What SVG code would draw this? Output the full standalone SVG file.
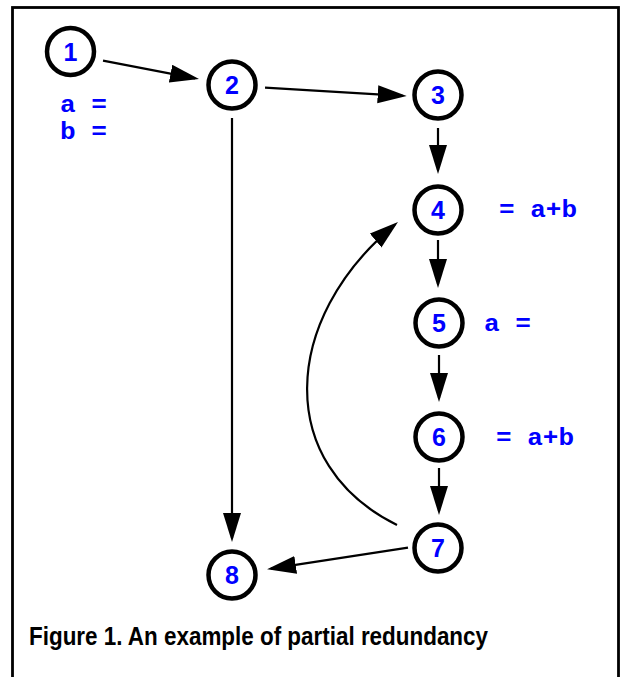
<svg xmlns="http://www.w3.org/2000/svg" width="620" height="677" viewBox="0 0 620 677">
<style>
.node circle{fill:#fff;stroke:#000;stroke-width:4.5}
.node text{font-family:"Liberation Sans",Arial,sans-serif;font-weight:bold;font-size:25px;fill:#0000ff;text-anchor:middle}
.code{font-family:"Liberation Mono","Courier New",monospace;font-weight:bold;font-size:23px;fill:#0000ff}
.edge{fill:none;stroke:#000;stroke-width:2.2}
.cap{font-family:"Liberation Sans",Arial,sans-serif;font-weight:bold;font-size:25px;fill:#000}
</style>
<defs>
<marker id="ah" markerUnits="userSpaceOnUse" markerWidth="32" markerHeight="20" refX="25" refY="9" orient="auto">
<path d="M0,0 L29,9 L0,18 z" fill="#000"/>
</marker>
</defs>
<rect x="0" y="0" width="620" height="677" fill="#fff"/>
<rect x="12.5" y="7.5" width="606" height="700" fill="none" stroke="#000" stroke-width="2.8"/>
<g id="connectors">
<line class="edge" x1="103" y1="60.7" x2="195.1" y2="78.3" marker-end="url(#ah)"/>
<line class="edge" x1="265" y1="87.7" x2="402.7" y2="95.8" marker-end="url(#ah)"/>
<line class="edge" x1="438" y1="128" x2="438" y2="170" marker-end="url(#ah)"/>
<line class="edge" x1="438" y1="240" x2="438" y2="284" marker-end="url(#ah)"/>
<line class="edge" x1="439" y1="355" x2="439" y2="398" marker-end="url(#ah)"/>
<line class="edge" x1="439" y1="468" x2="439" y2="511" marker-end="url(#ah)"/>
<line class="edge" x1="232" y1="118" x2="232" y2="538" marker-end="url(#ah)"/>
<line class="edge" x1="408" y1="547.7" x2="271" y2="568.7" marker-end="url(#ah)"/>
<path class="edge" d="M397,525 C275,465 280,320 394.9,224.6" marker-end="url(#ah)"/>
</g>
<g id="node1" class="node"><circle cx="70.5" cy="51.5" r="23.5"/><text x="70.5" y="60.5">1</text></g>
<g id="node2" class="node"><circle cx="232" cy="85" r="23.5"/><text x="232" y="94">2</text></g>
<g id="node3" class="node"><circle cx="438" cy="95" r="23.5"/><text x="438" y="104">3</text></g>
<g id="node4" class="node"><circle cx="438" cy="210" r="23.5"/><text x="438" y="219">4</text></g>
<g id="node5" class="node"><circle cx="439" cy="323" r="23.5"/><text x="439" y="332">5</text></g>
<g id="node6" class="node"><circle cx="439" cy="437" r="23.5"/><text x="439" y="446">6</text></g>
<g id="node7" class="node"><circle cx="438" cy="548" r="23.5"/><text x="438" y="557">7</text></g>
<g id="node8" class="node"><circle cx="232" cy="575" r="23.5"/><text x="232" y="584">8</text></g>
<text class="code" x="60" y="112" textLength="47" lengthAdjust="spacingAndGlyphs">a =</text>
<text class="code" x="60" y="139" textLength="47" lengthAdjust="spacingAndGlyphs">b =</text>
<text class="code" x="499" y="217" textLength="78" lengthAdjust="spacingAndGlyphs">= a+b</text>
<text class="code" x="484" y="331" textLength="47" lengthAdjust="spacingAndGlyphs">a =</text>
<text class="code" x="496" y="445" textLength="78" lengthAdjust="spacingAndGlyphs">= a+b</text>
<text class="cap" x="29" y="645" textLength="459" lengthAdjust="spacingAndGlyphs">Figure 1. An example of partial redundancy</text>
</svg>
